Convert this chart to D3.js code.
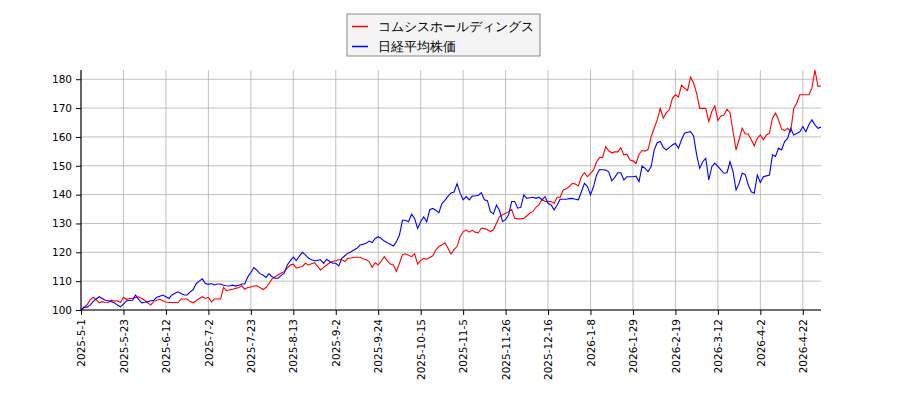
<!DOCTYPE html>
<html>
<head>
<meta charset="utf-8">
<script src="https://cdn.jsdelivr.net/npm/d3@7"></script>
<style>
  body { margin: 0; background: #fff; }
  #graphicContainer { width: 900px; height: 400px; }
  text { font-family: "DejaVu Sans", sans-serif; }
</style>
</head>
<body>
<div id="graphicContainer"></div>
<script>
var target = "#graphicContainer";

// series names
var seriesNames = ["コムシスホールディングス", "日経平均株価"];
var seriesColors = ["#ff0000", "#0000ff"];

// relative price, one value per trading day from 2025-5-1
var comsys = [
  100.0,101.0,101.8,103.5,104.4,103.6,102.5,102.9,102.6,102.5,
  103.4,103.1,103.2,102.6,104.4,103.7,104.0,104.0,104.3,104.6,
  104.0,103.4,102.5,101.7,103.0,103.4,103.7,103.2,102.8,102.6,
  102.6,102.6,102.5,103.8,103.8,103.8,102.9,102.5,103.2,104.0,
  104.6,104.0,104.4,102.8,103.8,103.8,103.8,107.8,106.6,107.0,
  107.2,107.5,107.8,108.4,107.2,107.8,108.0,108.3,108.4,107.8,
  107.1,107.8,109.2,110.8,111.5,112.2,112.8,113.3,114.5,115.6,
  115.9,114.5,114.8,115.1,116.2,115.6,116.0,116.4,115.1,113.9,
  114.8,115.6,116.4,116.8,117.1,117.4,117.4,116.8,117.9,118.0,
  118.3,118.3,118.3,117.8,117.4,116.8,114.8,116.4,115.6,117.0,
  118.5,117.1,115.9,115.6,113.4,116.2,119.2,119.5,119.0,118.5,
  119.5,115.9,117.2,117.9,117.6,118.2,118.8,120.8,122.0,122.5,
  123.3,121.4,119.4,121.0,122.0,125.4,127.1,127.8,127.0,127.6,
  127.0,126.7,128.4,128.2,127.8,127.2,127.8,130.1,132.4,133.0,
  133.5,134.1,134.9,131.8,131.6,131.6,131.8,132.6,133.6,134.1,
  135.6,136.4,138.4,137.6,137.6,137.6,137.0,139.1,139.1,141.6,
  142.0,142.8,143.9,143.7,143.0,146.2,147.6,146.2,147.4,148.5,
  151.4,152.9,152.9,156.6,155.2,154.5,154.8,154.8,156.3,153.7,
  154.0,152.0,151.7,150.8,154.0,155.3,155.1,155.7,160.1,163.0,
  165.9,169.9,166.5,168.4,169.4,173.4,174.6,173.8,178.0,176.9,
  176.1,180.7,178.6,175.1,169.9,169.9,169.9,165.3,168.8,170.8,
  165.7,167.3,167.6,169.6,168.4,161.8,155.5,159.2,163.0,161.0,
  161.0,159.0,156.9,159.5,160.7,159.0,160.7,161.3,166.5,168.2,
  165.9,162.7,162.2,163.0,161.8,169.9,171.7,174.6,174.6,174.6,
  174.6,176.9,183.2,177.5,177.7
];

var nikkei = [
  100.0,100.9,101.0,101.7,102.9,103.8,104.6,104.0,103.4,103.2,
  102.9,102.5,101.7,101.1,102.0,103.2,103.3,103.4,105.2,103.7,
  102.5,102.7,102.9,103.2,103.4,104.4,104.8,105.2,104.6,104.0,
  105.2,105.8,106.3,105.7,105.2,105.2,106.3,107.1,109.2,110.0,
  110.8,109.2,108.9,109.2,108.7,109.0,109.0,108.6,108.4,108.3,
  108.6,108.3,108.6,109.0,109.0,111.5,113.0,114.7,113.8,112.6,
  112.1,111.3,112.6,111.5,111.0,111.0,112.0,112.8,115.6,117.0,
  118.3,117.1,118.7,120.0,119.1,118.0,117.4,117.1,117.2,117.4,
  116.2,117.6,116.8,116.2,116.2,115.3,117.9,118.8,119.7,120.2,
  120.8,121.4,122.5,122.8,123.1,123.9,123.4,124.8,125.4,124.8,
  123.9,123.3,122.8,122.2,123.7,126.0,131.1,131.1,130.6,133.2,
  131.7,128.3,130.6,132.3,130.6,134.8,135.2,134.6,133.7,136.9,
  138.0,139.4,140.6,140.9,143.8,140.5,138.2,139.3,138.2,139.5,
  139.5,139.8,140.7,138.2,137.9,134.1,133.3,136.4,134.5,130.7,
  131.3,133.0,137.6,137.6,135.3,135.6,139.9,138.7,138.9,139.1,
  138.7,139.1,138.2,139.3,137.0,136.4,134.7,136.4,138.4,138.4,
  138.4,138.6,138.7,138.4,138.2,141.0,143.9,142.8,139.9,142.8,
  146.8,148.7,148.6,148.5,147.9,144.8,146.0,147.6,147.6,145.1,
  146.2,146.2,146.2,146.4,144.5,149.9,149.1,148.0,149.7,155.5,
  158.0,158.4,156.4,155.5,156.4,157.2,157.8,156.1,159.0,161.3,
  161.6,161.8,160.3,153.8,149.1,151.4,152.6,145.1,149.7,150.9,
  149.8,148.6,147.4,147.6,151.4,148.0,141.6,143.9,147.4,147.0,
  143.4,141.0,140.5,146.8,144.2,146.2,146.5,146.8,153.8,153.2,
  156.1,155.5,158.4,159.5,163.0,160.7,161.2,161.8,163.6,161.8,
  164.2,165.9,164.2,163.0,163.4
];

// x tick labels, one every 14 trading days
var tickLabels = [
  "2025-5-1","2025-5-23","2025-6-12","2025-7-2","2025-7-23","2025-8-13",
  "2025-9-2","2025-9-24","2025-10-15","2025-11-5","2025-11-26","2025-12-16",
  "2026-1-8","2026-1-29","2026-2-19","2026-3-12","2026-4-2","2026-4-22"
];
var tickStep = 14;
var yTicks = [100, 110, 120, 130, 140, 150, 160, 170, 180];

function makeChart() {
    var width = 900, height = 400;
    var margin = {top: 70, right: 79, bottom: 90, left: 81};
    var innerW = width - margin.left - margin.right,
        innerH = height - margin.top - margin.bottom;

    d3.select(target + " svg").remove();

    var svg = d3.select(target).append("svg")
        .attr("width", width)
        .attr("height", height);

    var g = svg.append("g")
        .attr("transform", "translate(" + margin.left + "," + margin.top + ")");

    var x = d3.scaleLinear()
        .domain([0, comsys.length - 1])
        .range([0, innerW]);

    var y = d3.scaleLinear()
        .domain([100, 183.2])
        .range([innerH, 0]);

    var xTickPos = tickLabels.map(function(d, i) { return i * tickStep; });

    // grid
    g.append("g").selectAll("line")
        .data(xTickPos).enter().append("line")
        .attr("x1", d => x(d)).attr("x2", d => x(d))
        .attr("y1", 0).attr("y2", innerH)
        .attr("stroke", "#b0b0b0").attr("stroke-width", 0.8);

    g.append("g").selectAll("line")
        .data(yTicks).enter().append("line")
        .attr("x1", 0).attr("x2", innerW)
        .attr("y1", d => y(d)).attr("y2", d => y(d))
        .attr("stroke", "#b0b0b0").attr("stroke-width", 0.8);

    // lines
    var line = d3.line()
        .x(function(d, i) { return x(i); })
        .y(function(d) { return y(d); });

    [comsys, nikkei].forEach(function(s, k) {
        g.append("path")
            .datum(s)
            .attr("fill", "none")
            .attr("stroke", seriesColors[k])
            .attr("stroke-width", 1.1)
            .attr("d", line);
    });

    // axes
    var xAxis = g.append("g")
        .attr("transform", "translate(0," + innerH + ")")
        .call(d3.axisBottom(x).tickValues(xTickPos)
            .tickFormat(function(d, i) { return tickLabels[i]; })
            .tickSize(5).tickPadding(4));
    xAxis.selectAll("text")
        .attr("transform", "rotate(-90)")
        .attr("text-anchor", "end")
        .attr("x", -9)
        .attr("y", 0)
        .attr("dy", "0.35em")
        .attr("font-size", "10.5px")
        .attr("fill", "#000");

    var yAxis = g.append("g")
        .call(d3.axisLeft(y).tickValues(yTicks).tickSize(5).tickPadding(4));
    yAxis.selectAll("text").attr("font-size", "10.5px").attr("fill", "#000");

    svg.selectAll(".domain").attr("stroke", "#000").attr("stroke-width", 1.1);
    svg.selectAll(".tick line").attr("stroke", "#000");
    xAxis.select(".domain").attr("d", "M0,0H" + innerW);
    yAxis.select(".domain").attr("d", "M0," + innerH + "V0");

    // legend
    var leg = svg.append("g").attr("transform", "translate(347,14)");
    leg.append("rect")
        .attr("width", 193).attr("height", 42)
        .attr("fill", "#f4f4f4")
        .attr("stroke", "#888").attr("stroke-width", 1);

    seriesNames.forEach(function(name, k) {
        var yy = 12.5 + k * 20;
        leg.append("line")
            .attr("x1", 5).attr("x2", 21)
            .attr("y1", yy).attr("y2", yy)
            .attr("stroke", seriesColors[k]).attr("stroke-width", 1.5);
        leg.append("text")
            .attr("x", 31).attr("y", yy)
            .attr("dy", "0.35em")
            .attr("font-family", "'Noto Sans CJK JP', sans-serif")
            .attr("font-size", "13px")
            .attr("fill", "#000")
            .text(name);
    });
}

makeChart();
</script>
</body>
</html>
